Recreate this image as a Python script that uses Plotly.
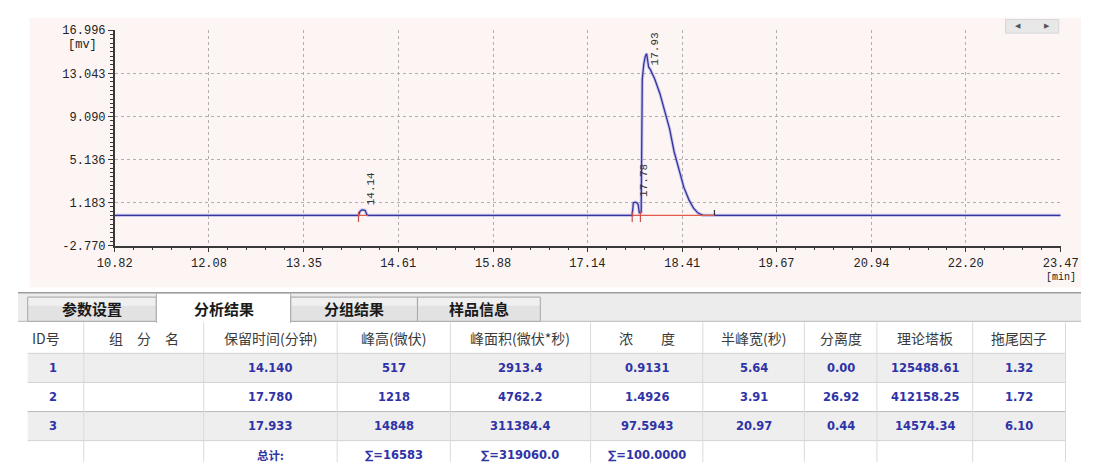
import plotly.graph_objects as go

# ---------------------------------------------------------------- data
x_tick_labels = ["10.82", "12.08", "13.35", "14.61", "15.88", "17.14",
                 "18.41", "19.67", "20.94", "22.20", "23.47"]
y_tick_labels = ["-2.770", "1.183", "5.136", "9.090", "13.043", "16.996"]

# detector signal (mV) away from the peak apexes
run_time = [10.82, 23.47]
run_signal = [0.0, 0.0]

peak1_time = [14.08, 14.10, 14.12, 14.17, 14.19, 14.21]
peak1_signal = [0.0, 0.38, 0.50, 0.46, 0.10, 0.0]

peak23_time = [17.74, 17.755, 17.80, 17.82, 17.835, 17.86, 17.875, 17.895,
               17.915, 17.96, 17.98, 18.04, 18.11, 18.17, 18.24, 18.30,
               18.37, 18.43, 18.50, 18.56, 18.62, 18.69]
peak23_signal = [0.0, 1.15, 1.17, 1.0, 0.25, 0.3, 12.5, 13.9,
                 14.6, 13.6, 13.43, 12.54, 11.2, 9.72, 7.94, 5.87,
                 4.08, 2.6, 1.41, 0.67, 0.22, 0.0]

# peak table
peak_id = [1, 2, 3]
peak_name = ["", "", ""]
peak_rt = [14.140, 17.780, 17.933]
peak_height_uv = [517, 1218, 14848]
peak_area = [2913.4, 4762.2, 311384.4]
peak_conc = [0.9131, 1.4926, 97.5943]
peak_half_width = [5.64, 3.91, 20.97]
peak_resolution = [0.00, 26.92, 0.44]
peak_plates = [125488.61, 412158.25, 14574.34]
peak_tailing = [1.32, 1.72, 6.10]
peak_start = [14.08, 17.74, 17.85]
peak_end = [14.21, 17.85, 18.84]

tab_names = ["参数设置", "分析结果", "分组结果", "样品信息"]
table_headers = ["ID号", "组　分　名", "保留时间(分钟)", "峰高(微伏)", "峰面积(微伏*秒)",
                 "浓　　度", "半峰宽(秒)", "分离度", "理论塔板", "拖尾因子"]

# ---------------------------------------------------------------- helpers
W, H = 1099, 470
X0_PX, X1_PX = 100, 1078      # plot area, pixels
Y0_PX, Y1_PX = 25, 247
XMIN, XMAX = float(x_tick_labels[0]), float(x_tick_labels[-1])
YMIN, YMAX = float(y_tick_labels[0]), float(y_tick_labels[-1])


def px(x):
    return x / W


def py(y):
    return 1 - y / H


shapes, annotations = [], []


def rect(x0, y0, x1, y1, fill, line=None, lw=0, layer="below"):
    shapes.append(dict(type="rect", xref="paper", yref="paper",
                       x0=px(x0), x1=px(x1), y0=py(y1), y1=py(y0),
                       fillcolor=fill, layer=layer,
                       line=dict(width=lw, color=line or fill)))


def seg(x0, y0, x1, y1, color, w=1):
    shapes.append(dict(type="line", xref="paper", yref="paper",
                       x0=px(x0), x1=px(x1), y0=py(y0), y1=py(y1),
                       line=dict(width=w, color=color), layer="above"))


def text(x, y, s, size, color, family, anchor="center"):
    annotations.append(dict(x=px(x), y=py(y), xref="paper", yref="paper",
                            text=s, showarrow=False, xanchor=anchor,
                            yanchor="middle",
                            font=dict(size=size, color=color, family=family)))


MONO = "Liberation Mono"
CJK = "Noto Sans CJK SC"
NUM = "DejaVu Sans"

# ---------------------------------------------------------------- chromatogram
pts = list(zip(run_time, run_signal)) + list(zip(peak1_time, peak1_signal)) \
    + list(zip(peak23_time, peak23_signal)) \
    + [(t, h / 1000.0) for t, h in zip(peak_rt, peak_height_uv)]
pts.sort()
trace_t = [p[0] for p in pts]
trace_v = [p[1] for p in pts]

fig = go.Figure()
fig.add_trace(go.Scatter(x=trace_t, y=trace_v, mode="lines",
                         line=dict(color="rgba(140,140,232,0.45)", width=3.2),
                         hoverinfo="skip"))
fig.add_trace(go.Scatter(x=trace_t, y=trace_v, mode="lines",
                         line=dict(color="#34349a", width=1.3),
                         hoverinfo="skip"))

# integration baselines and start / end marks
bx, by = [], []
for s, e in zip(peak_start, peak_end):
    bx += [s, e, None]
    by += [0, 0, None]
fig.add_trace(go.Scatter(x=bx, y=by, mode="lines",
                         line=dict(color="#e25a4a", width=1.3), hoverinfo="skip"))
tx, ty = [], []
for s in peak_start:
    tx += [s, s, None]
    ty += [0.35, -0.6, None]
fig.add_trace(go.Scatter(x=tx, y=ty, mode="lines",
                         line=dict(color="#c8504a", width=1.2), hoverinfo="skip"))
fig.add_trace(go.Scatter(x=[peak_end[-1], peak_end[-1]], y=[0.05, 0.5],
                         mode="lines", line=dict(color="#333333", width=1.2),
                         hoverinfo="skip"))

# retention-time labels above each peak, kept inside the plot area
px_per_mv = (Y1_PX - Y0_PX) / (YMAX - YMIN)
label_len_mv = 34 / px_per_mv
for rt, h in zip(peak_rt, peak_height_uv):
    h_mv = h / 1000.0
    if h_mv + label_len_mv > YMAX:
        y, ya, ys = YMAX, "top", 0
    else:
        y, ya, ys = h_mv, "bottom", 3
    annotations.append(dict(x=rt, y=y, xref="x", yref="y", text=f"{rt:.2f}",
                            textangle=-90, showarrow=False, xanchor="center",
                            yanchor=ya, xshift=8, yshift=ys,
                            font=dict(family=MONO, size=11, color="#333333")))

# ---------------------------------------------------------------- panel decoration
rect(12, 12, W, 290, "#fcf5f3")
text(67, 40, "[mv]", 12, "#222222", MONO)
text(1078, 280, "[min]", 10, "#222222", MONO)
rect(1021, 14, 1076, 28, "#e8e8e8", "#d6d6d6", 1, layer="above")
text(1034, 21, "◀", 7, "#555555", NUM)
text(1064, 21, "▶", 7, "#555555", NUM)

# ---------------------------------------------------------------- tabs
rect(0, 296, W, 325, "#ececec")
seg(0, 295.5, W, 295.5, "#9c9c9c", 1.5)
seg(0, 325, W, 325, "#b8b8b8", 1)
tab_edges = [10, 143, 282, 413, 540]
for i, name in enumerate(tab_names):
    x0, x1 = tab_edges[i], tab_edges[i + 1]
    if i == 1:
        rect(x0, 296, x1, 326, "#ffffff", "#a8a8a8", 1, layer="above")
        rect(x0 + 1, 320, x1 - 1, 327, "#ffffff", layer="above")
    else:
        rect(x0, 300, x1, 325, "#e2e2e2", "#a8a8a8", 1, layer="above")
        rect(x0 + 1, 301, x1 - 1, 309, "#f0f0f0", layer="above")
    text((x0 + x1) / 2, 312, f"<b>{name}</b>", 15, "#1a1a1a", CJK)

# ---------------------------------------------------------------- result table
col_edges = [10, 68, 192, 330, 447, 592, 708, 813, 888, 987, 1083]
row_top = 358
row_h = 30
header_mid = 342

rows = []
for i in range(len(peak_id)):
    rows.append([str(peak_id[i]), peak_name[i], f"{peak_rt[i]:.3f}",
                 str(peak_height_uv[i]), f"{peak_area[i]:.1f}",
                 f"{peak_conc[i]:.4f}", f"{peak_half_width[i]:.2f}",
                 f"{peak_resolution[i]:.2f}", f"{peak_plates[i]:.2f}",
                 f"{peak_tailing[i]:.2f}"])
rows.append(["", "", "总计:", f"∑={sum(peak_height_uv)}",
             f"∑={sum(peak_area):.1f}", f"∑={sum(peak_conc):.4f}", "", "", "", ""])

for r in range(len(rows)):
    y0 = row_top + r * row_h
    fill = "#eeeeee" if r % 2 == 0 else "#ffffff"
    rect(col_edges[0], y0, col_edges[-1], y0 + row_h, fill, layer="above")
    seg(col_edges[0], y0, col_edges[-1], y0, "#d2d2d2", 1)
seg(col_edges[0], row_top + 2 * row_h, col_edges[-1], row_top + 2 * row_h, "#bdbdbd", 1)
for xe in col_edges[1:]:
    seg(xe, 326, xe, H, "#dadada", 1)

for c, head in enumerate(table_headers):
    cx = (col_edges[c] + col_edges[c + 1]) / 2
    if c == 0:
        text(12, header_mid, head, 14, "#3a3a3a", CJK, anchor="left")
    else:
        text(cx, header_mid, head, 14, "#3a3a3a", CJK)

for r, row in enumerate(rows):
    cy = row_top + r * row_h + row_h / 2
    for c, val in enumerate(row):
        if not val:
            continue
        cx = (col_edges[c] + col_edges[c + 1]) / 2
        if c == 0:
            cx = 36
        fam = CJK if val == "总计:" else NUM
        text(cx, cy, f"<b>{val}</b>", 11.5, "#2f33a6", fam)

# ---------------------------------------------------------------- axes
def minor_vals(major, n):
    out = []
    for a, b in zip(major[:-1], major[1:]):
        out += [a + (b - a) * k / n for k in range(1, n)]
    return out


x_major = [float(s) for s in x_tick_labels]
y_major = [float(s) for s in y_tick_labels]

axis_common = dict(showline=True, linecolor="#3a3a3a", linewidth=1.5,
                   ticks="outside", tickcolor="#3a3a3a", ticklen=5, tickwidth=1,
                   showgrid=True, gridcolor="#b0b0b0", griddash="dot", gridwidth=1,
                   zeroline=False, fixedrange=True,
                   tickfont=dict(family=MONO, size=12, color="#222222"))

fig.update_layout(
    width=W, height=H,
    margin=dict(l=0, r=0, t=0, b=0),
    paper_bgcolor="#ffffff",
    plot_bgcolor="rgba(0,0,0,0)",
    showlegend=False,
    shapes=shapes,
    annotations=annotations,
    xaxis=dict(domain=[px(X0_PX), px(X1_PX)], range=[XMIN, XMAX],
               tickmode="array", tickvals=x_major, ticktext=x_tick_labels,
               minor=dict(tickmode="array", tickvals=minor_vals(x_major, 5),
                          ticklen=3, tickcolor="#3a3a3a", showgrid=False),
               **axis_common),
    yaxis=dict(domain=[py(Y1_PX), py(Y0_PX)], range=[YMIN, YMAX],
               tickmode="array", tickvals=y_major, ticktext=y_tick_labels,
               minor=dict(tickmode="array", tickvals=minor_vals(y_major, 10),
                          ticklen=3, tickcolor="#3a3a3a", showgrid=False),
               **axis_common),
)

fig.write_html("out.html", config={"displayModeBar": False})
